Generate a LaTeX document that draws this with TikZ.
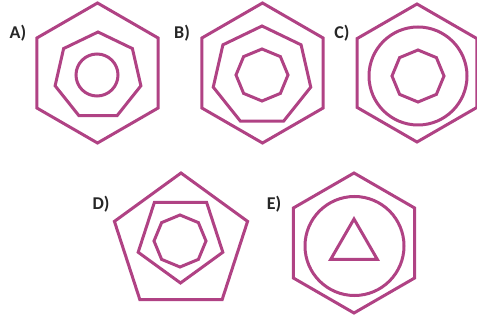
\documentclass[tikz,border=0pt]{standalone}
\usepackage{fontspec}
\setmainfont{Carlito}
\definecolor{mag}{RGB}{176,66,132}
\tikzset{
  pl/.style={draw=mag, line width=3pt, line join=miter},
  lbl/.style={font=\fontsize{18}{20}\selectfont\bfseries, text=black!85, inner sep=0pt}
}
\newcommand\regpoly[5]{%
  \draw[pl] ({#1+#3*cos(#5)},{#2-#3*sin(#5)})
    \foreach \k in {1,...,\the\numexpr#4-1\relax} { -- ({#1+#3*cos(#5+360*\k/#4)},{#2-#3*sin(#5+360*\k/#4)}) } -- cycle;}
\begin{document}
\begin{tikzpicture}[x=1pt,y=-1pt]
\useasboundingbox (0,0) rectangle (477,323);
% A
\regpoly{97.5}{73}{70}{6}{90}
\regpoly{98}{76}{44}{7}{90}
\draw[pl] (97,75) circle[radius=21];
\node[lbl] (la) at (18,33) {A)};
% B
\regpoly{262.5}{73}{70}{6}{90}
\regpoly{262}{76}{50}{7}{90}
\regpoly{262}{75}{26}{8}{90}
\node[lbl] (lb) at (182,33) {B)};
% C
\regpoly{417}{73}{69}{6}{90}
\draw[pl] (418,76) circle[radius=49];
\regpoly{418}{76}{26}{8}{90}
\node[lbl] (lc) at (342,33) {C)};
% D
\regpoly{181}{243}{70}{5}{90}
\regpoly{180.5}{238.5}{44.5}{5}{270}
\regpoly{180}{241}{26}{8}{90}
\node[lbl] (ld) at (101,204) {D)};
% E
\regpoly{354}{243}{70}{6}{90}
\draw[pl] (354.5,246) circle[radius=49.5];
\regpoly{354}{246}{27}{3}{90}
\node[lbl] (le) at (274,204) {E)};
\end{tikzpicture}
\end{document}
